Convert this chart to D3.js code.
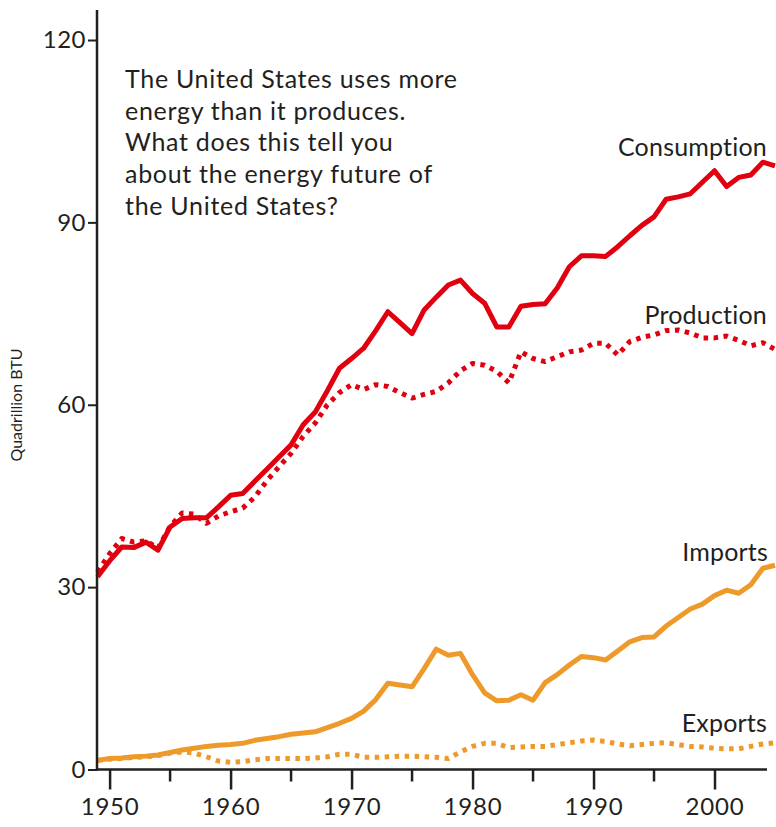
<!DOCTYPE html>
<html><head><meta charset="utf-8">
<script src="https://cdn.jsdelivr.net/npm/d3@7"></script>
<style>
html,body{margin:0;padding:0;background:#fff;}
svg text{font-family:"Lato","Open Sans",sans-serif;fill:#231f20;}
</style></head>
<body><svg id="c" width="776" height="827"></svg>
<script>
const years = d3.range(1949, 2006);
const consumption = [31.7,34.3,36.6,36.5,37.4,36.1,39.9,41.3,41.4,41.4,43.2,45.1,45.4,47.4,49.4,51.4,53.4,56.7,58.8,62.3,66.0,67.6,69.3,72.2,75.3,73.5,71.7,75.6,77.7,79.7,80.5,78.3,76.7,72.8,72.8,76.2,76.5,76.6,79.2,82.7,84.5,84.5,84.4,86.0,87.8,89.5,90.9,93.8,94.2,94.7,96.6,98.5,95.9,97.4,97.8,99.9,99.3];
const production = [32.5,35.5,38.0,37.4,37.6,36.4,40.0,42.2,42.0,40.5,41.7,42.4,43.0,44.8,47.5,49.8,52.0,54.8,57.0,60.0,62.0,63.3,62.5,63.3,63.0,62.0,61.1,61.7,62.2,63.6,65.6,66.8,66.5,65.5,63.6,68.7,67.6,67.1,67.9,68.7,69.0,70.1,70.1,68.2,70.4,71.1,71.5,72.2,72.3,71.8,71.0,71.0,71.3,70.6,69.7,70.2,69.1];
const imports = [1.5,1.8,1.9,2.1,2.2,2.4,2.8,3.2,3.5,3.8,4.0,4.1,4.3,4.8,5.1,5.4,5.8,6.0,6.2,6.9,7.6,8.4,9.6,11.5,14.2,13.9,13.6,16.6,19.8,18.8,19.1,15.6,12.6,11.3,11.4,12.3,11.4,14.3,15.6,17.2,18.6,18.4,18.0,19.5,21.0,21.7,21.8,23.6,25.0,26.4,27.2,28.6,29.5,29.0,30.4,33.1,33.6];
const exports = [1.5,1.7,1.8,2.0,2.1,2.3,2.7,2.9,2.7,2.1,1.4,1.2,1.3,1.6,1.8,1.8,1.8,1.8,1.9,2.1,2.5,2.5,2.0,2.0,2.1,2.2,2.2,2.1,2.0,1.8,2.9,3.8,4.3,4.3,3.6,3.7,3.8,3.8,4.1,4.4,4.7,4.85,4.6,4.2,3.9,4.1,4.3,4.4,4.1,3.8,3.7,3.5,3.4,3.4,3.8,4.2,4.4];
const yTicks = [0,30,60,90,120];
const xMajor = [1950,1960,1970,1980,1990,2000];
const xMinor = [1955,1965,1975,1985,1995];
const seriesNames = ["Consumption","Production","Imports","Exports"];
const noteLines = ["The United States uses more","energy than it produces.","What does this tell you","about the energy future of","the United States?"];
const yTitle = "Quadrillion BTU";

const RED = "#e0000f", ORANGE = "#ee9a2a", INK = "#231f20";
const svg = d3.select("#c");
const x = d3.scaleLinear().domain([1949, 2005]).range([97.5, 775]);
const y = d3.scaleLinear().domain([0, 120]).range([769.5, 40]);

const series = [
  {name: seriesNames[0], vals: consumption, color: RED, dash: null},
  {name: seriesNames[1], vals: production, color: RED, dash: "4.5,5.5"},
  {name: seriesNames[2], vals: imports, color: ORANGE, dash: null},
  {name: seriesNames[3], vals: exports, color: ORANGE, dash: "4.5,5.5"}
];
const line = d3.line().x((d,i)=>x(years[i])).y(d=>y(d)).curve(d3.curveLinear);
[3,1,2,0].forEach(k=>{
  const s = series[k];
  svg.append("path").attr("d", line(s.vals)).attr("fill","none")
    .attr("stroke", s.color).attr("stroke-width", 5)
    .attr("stroke-linejoin","round")
    .attr("stroke-dasharray", s.dash);
});

const gy = svg.append("g").attr("transform","translate(97,0)")
  .call(d3.axisLeft(y).tickValues(yTicks).tickSize(9).tickPadding(2).tickFormat(d3.format("d")));
gy.select(".domain").attr("d","M0,10V770.5").attr("stroke",INK).attr("stroke-width",2.5);
gy.selectAll(".tick line").attr("stroke",INK).attr("stroke-width",2);
gy.selectAll(".tick text").attr("font-size",24).attr("letter-spacing",0.5).attr("fill",INK).attr("font-family","Lato, sans-serif");

const gx = svg.append("g").attr("transform","translate(0,769.5)")
  .call(d3.axisBottom(x).tickValues(xMajor).tickSize(20).tickPadding(8).tickFormat(d3.format("d")));
gx.select(".domain").attr("d","M96,0H767").attr("stroke",INK).attr("stroke-width",2.5);
gx.selectAll(".tick line").attr("stroke",INK).attr("stroke-width",2.5);
gx.selectAll(".tick text").attr("font-size",24).attr("letter-spacing",0.8).attr("fill",INK).attr("font-family","Lato, sans-serif");
gx.selectAll(".minor").data(xMinor).enter().append("line")
  .attr("x1",d=>x(d)).attr("x2",d=>x(d)).attr("y1",0).attr("y2",12)
  .attr("stroke",INK).attr("stroke-width",2.5);

svg.append("text").attr("transform","translate(22,405) rotate(-90)")
  .attr("text-anchor","middle").attr("font-size",16).text(yTitle);

const labelPos = [[767,156],[767,324],[768,561],[767,732]];
seriesNames.forEach((n,i)=>{
  svg.append("text").attr("x",labelPos[i][0]).attr("y",labelPos[i][1])
    .attr("text-anchor","end").attr("font-size",25).attr("letter-spacing",0.2).text(n);
});

noteLines.forEach((t,i)=>{
  svg.append("text").attr("x",125).attr("y",88+i*31.7).attr("font-size",25)
    .attr("letter-spacing",0.7).text(t);
});
</script></body></html>
